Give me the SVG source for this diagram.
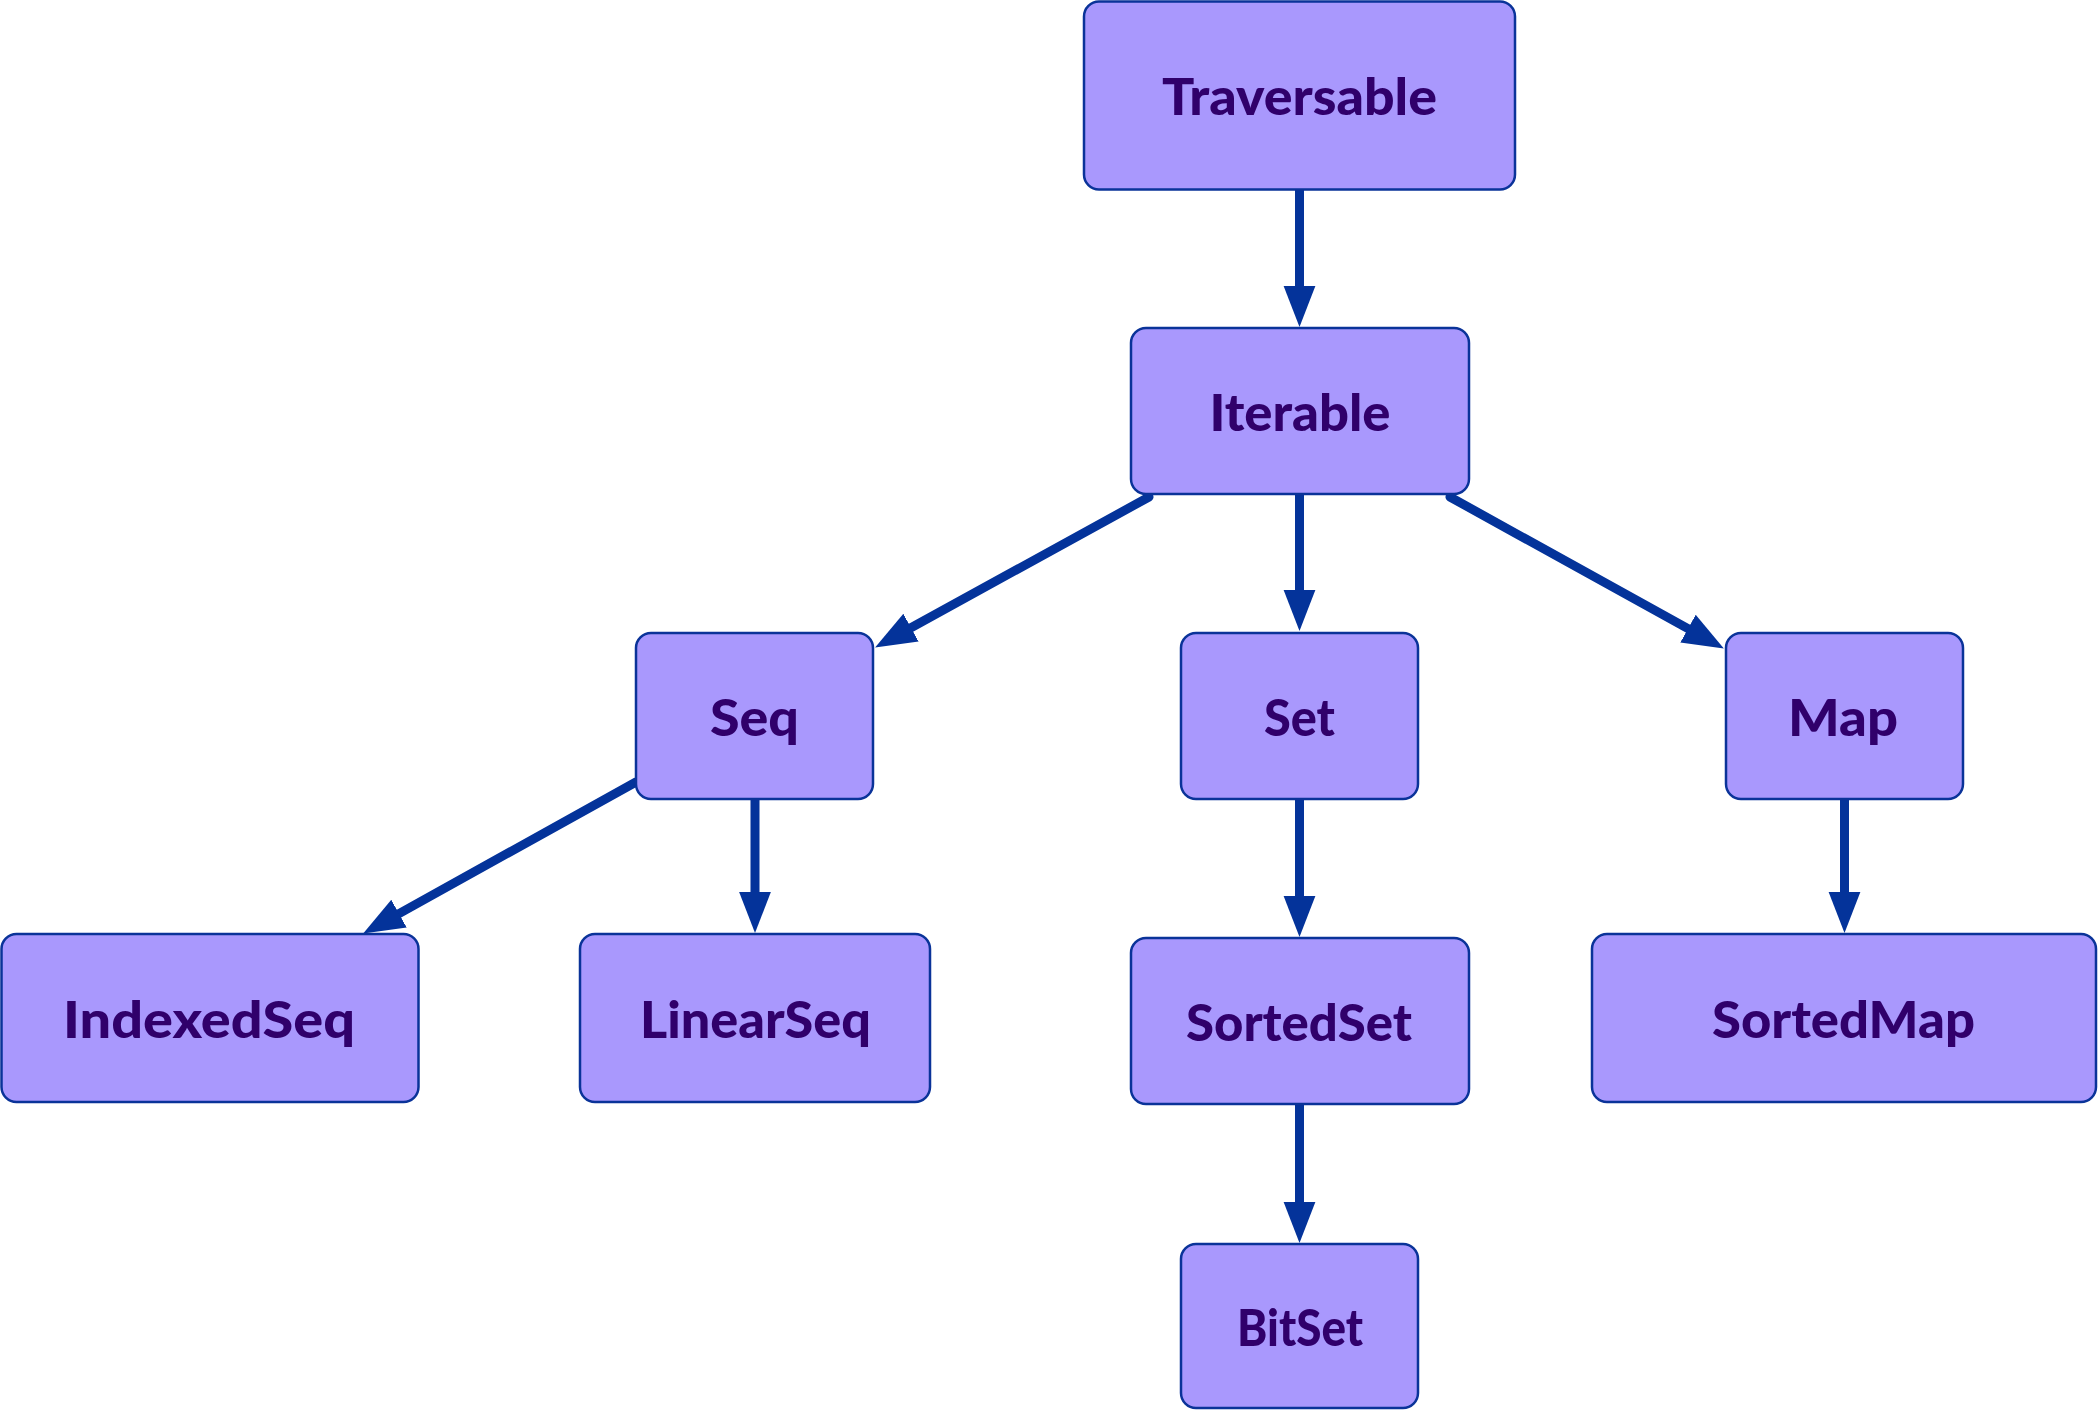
<svg xmlns="http://www.w3.org/2000/svg" width="2099" height="1411" viewBox="0 0 2099 1411">
<defs>
<style>
.box{fill:#a998fd;stroke:#0a3399;stroke-width:2.5}
.lbl{font-family:Lato,"Liberation Sans",sans-serif;font-weight:900;font-size:51px;fill:#30006b;text-anchor:middle}
.edge{stroke:#04339a;stroke-width:9;stroke-linecap:round;fill:none;marker-end:url(#ah)}
.dot{fill:#04339a}
</style>
<marker id="ah" markerUnits="userSpaceOnUse" markerWidth="42" markerHeight="34" viewBox="0 -16 41 32" refX="0" refY="0" orient="auto">
<path d="M0,-15.5 L40,0 L0,15.5 Z" fill="#04339a"/>
</marker>
</defs>
<rect width="2099" height="1411" fill="#ffffff"/>
<g id="connectors">
<line class="edge" x1="1299.5" y1="190" x2="1299.5" y2="286"/>
<line class="edge" x1="1299.5" y1="494" x2="1299.5" y2="590"/>
<line class="edge" x1="1149" y1="497" x2="911" y2="627.7"/>
<line class="edge" x1="1450" y1="497" x2="1688" y2="628.6"/>
<line class="edge" x1="636" y1="782" x2="399" y2="913.6"/>
<line class="edge" x1="755" y1="799" x2="755" y2="892"/>
<line class="edge" x1="1299.5" y1="799" x2="1299.5" y2="896"/>
<line class="edge" x1="1844.5" y1="799" x2="1844.5" y2="892"/>
<line class="edge" x1="1299.5" y1="1104" x2="1299.5" y2="1202"/>
</g>
<g id="Traversable"><rect class="box" x="1084" y="1.5" width="431" height="188" rx="15"/><text class="lbl" x="1299.5" y="115" textLength="275" lengthAdjust="spacingAndGlyphs">Traversable</text></g>
<g id="Iterable"><rect class="box" x="1131" y="328" width="338" height="166" rx="15"/><text class="lbl" x="1300" y="431" textLength="181" lengthAdjust="spacingAndGlyphs">Iterable</text></g>
<g id="Seq"><rect class="box" x="636" y="633" width="237" height="166" rx="15"/><text class="lbl" x="754.5" y="736" textLength="89" lengthAdjust="spacingAndGlyphs">Seq</text></g>
<g id="Set"><rect class="box" x="1181" y="633" width="237" height="166" rx="15"/><text class="lbl" x="1299.5" y="736" textLength="71" lengthAdjust="spacingAndGlyphs">Set</text></g>
<g id="Map"><rect class="box" x="1726" y="633" width="237" height="166" rx="15"/><text class="lbl" x="1843" y="736" textLength="110" lengthAdjust="spacingAndGlyphs">Map</text></g>
<g id="IndexedSeq"><rect class="box" x="1.5" y="934" width="417" height="168" rx="15"/><text class="lbl" x="209" y="1038" textLength="292" lengthAdjust="spacingAndGlyphs">IndexedSeq</text></g>
<g id="LinearSeq"><rect class="box" x="580" y="934" width="350" height="168" rx="15"/><text class="lbl" x="755.5" y="1038" textLength="231" lengthAdjust="spacingAndGlyphs">LinearSeq</text></g>
<g id="SortedSet"><rect class="box" x="1131" y="938" width="338" height="166" rx="15"/><text class="lbl" x="1299" y="1041" textLength="226" lengthAdjust="spacingAndGlyphs">SortedSet</text></g>
<g id="SortedMap"><rect class="box" x="1592" y="934" width="504" height="168" rx="15"/><text class="lbl" x="1843.5" y="1038" textLength="263" lengthAdjust="spacingAndGlyphs">SortedMap</text></g>
<g id="BitSet"><rect class="box" x="1181" y="1244" width="237" height="164" rx="15"/><text class="lbl" x="1300" y="1346" textLength="126" lengthAdjust="spacingAndGlyphs">BitSet</text></g>
</svg>
